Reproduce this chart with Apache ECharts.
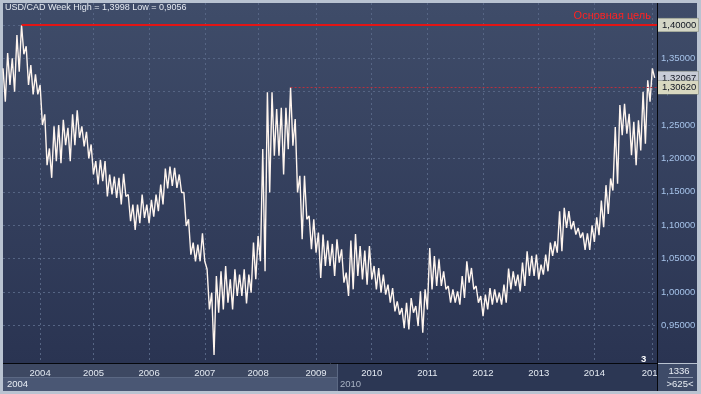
<!DOCTYPE html>
<html><head><meta charset="utf-8">
<script src="https://cdn.jsdelivr.net/npm/echarts@6/dist/echarts.min.js"></script>
<style>html,body{margin:0;padding:0;background:#b9c3d1;}#c{width:701px;height:394px;}</style>
</head><body><div id="c"></div>
<script>
const symbolName = 'USD/CAD';
const periodName = 'Week';
const startYear = 2004;
// monthly high / low (Jan 2004 ... Sep 2015)
const monthlyHigh = [
 1.335,1.358,1.350,1.385,1.3998,1.368,1.340,1.326,1.310,1.266,1.215,1.248,
 1.250,1.258,1.246,1.266,1.272,1.248,1.240,1.221,1.196,1.198,1.196,1.176,
 1.173,1.171,1.177,1.146,1.131,1.131,1.146,1.131,1.138,1.146,1.161,1.185,
 1.188,1.186,1.176,1.149,1.109,1.074,1.071,1.088,1.034,0.999,1.024,1.031,
 1.039,1.019,1.034,1.026,1.034,1.026,1.074,1.084,1.214,1.299,1.299,1.274,
 1.276,1.276,1.3062,1.259,1.174,1.174,1.114,1.109,1.089,1.086,1.077,1.072,
 1.079,1.064,1.029,1.077,1.087,1.069,1.062,1.069,1.039,1.036,1.026,1.011,
 1.006,0.986,0.976,0.984,0.991,0.979,1.001,1.004,1.066,1.054,1.049,1.031,
 1.009,1.004,1.001,1.024,1.046,1.036,1.009,0.994,0.996,1.006,1.004,0.999,
 1.011,1.035,1.031,1.026,1.044,1.061,1.054,1.056,1.041,1.056,1.074,1.076,
 1.121,1.126,1.121,1.106,1.096,1.089,1.088,1.100,1.112,1.137,1.160,1.170,
 1.247,1.280,1.282,1.267,1.255,1.257,1.300,1.317,1.335
];
const monthlyLow = [
 1.285,1.310,1.300,1.330,1.356,1.310,1.296,1.296,1.250,1.190,1.171,1.196,
 1.193,1.220,1.196,1.220,1.231,1.218,1.200,1.176,1.161,1.166,1.143,1.146,
 1.141,1.131,1.143,1.106,1.093,1.103,1.111,1.103,1.113,1.121,1.131,1.155,
 1.159,1.156,1.149,1.099,1.056,1.046,1.046,1.046,0.974,0.9056,0.969,0.974,
 0.984,0.974,0.994,0.994,0.983,0.999,1.019,1.046,1.031,1.149,1.204,1.204,
 1.176,1.214,1.219,1.149,1.079,1.109,1.064,1.059,1.021,1.039,1.039,1.024,
 1.044,1.014,0.994,1.004,1.024,1.019,1.011,1.019,1.004,0.999,0.996,0.984,
 0.971,0.966,0.946,0.944,0.969,0.949,0.939,0.974,1.004,1.009,1.009,1.004,
 0.984,0.984,0.981,0.991,1.014,1.004,0.984,0.964,0.974,0.981,0.984,0.981,
 0.984,1.004,1.009,1.001,1.009,1.024,1.024,1.019,1.026,1.031,1.054,1.059,
 1.061,1.096,1.094,1.086,1.081,1.063,1.063,1.075,1.085,1.097,1.117,1.152,
 1.162,1.235,1.237,1.205,1.190,1.212,1.222,1.285,1.3207
];
const yearLabels = ['2004','2005','2006','2007','2008','2009','2010','2011','2012','2013','2014','2015'];
const yearTickIndex = [16,39,63,87,110,135,159,183,207,231,255,280];
const targetLevel = 1.40;
const targetText = 'Основная цель';
const resistanceLevel = 1.3062;
const lastClose = 1.32067;
const lowerStripLabels = ['2004','2010'];
const cornerLabels = ['1336','>625<'];
const pageMarker = '3';

const FONT = 'Liberation Sans, Arial, sans-serif';
const zig = [], cats = [];
monthlyHigh.forEach((h, i) => {
  const y = startYear + Math.floor(i / 12), mo = String(i % 12 + 1).padStart(2, '0');
  cats.push(y + '-' + mo + ' H', y + '-' + mo + ' L');
  zig.push(h, monthlyLow[i]);
});
cats.push('');
const lastCat = cats[cats.length - 1];
const fmt = (v, d) => v.toFixed(d).replace('.', ',');
const hi = Math.max(...monthlyHigh), lo = Math.min(...monthlyLow);
const hiIdx = zig.indexOf(hi);
const resIdx = zig.indexOf(resistanceLevel);
const lastIdx = zig.length - 1;
const tickSet = new Set(yearTickIndex);
const leftCount = 6;

const tag = (val, bg) => ({show: true, position: 'end', distance: 1, formatter: fmt(val, 5),
  backgroundColor: bg, color: '#0f1420', fontSize: 9.5, fontFamily: FONT,
  padding: [2, 2, 1, 4], borderColor: '#7d8477', borderWidth: 0.5});
const hidden = {color: 'rgba(0,0,0,0)', width: 0, type: 'solid'};
const gridC = '#566584';
const splitColors = ['rgba(0,0,0,0)'].concat(Array(10).fill(gridC));

const chart = echarts.init(document.getElementById('c'), null, {renderer: 'canvas'});
chart.setOption({
  animation: false,
  backgroundColor: '#b9c3d1',
  title: {text: symbolName + ' ' + periodName + ' High = ' + fmt(hi, 4) + ' Low = ' + fmt(lo, 4),
    left: 5, top: 3, padding: 0,
    textStyle: {color: '#e6ebf2', fontSize: 9, fontWeight: 'normal', fontFamily: FONT}},
  grid: {left: 3, top: 3, right: 44, bottom: 31, containLabel: false},
  xAxis: {type: 'category', data: cats, boundaryGap: false,
    axisLine: {show: false}, axisTick: {show: false},
    axisLabel: {interval: (i) => tickSet.has(i), margin: 5, fontSize: 9.5, fontFamily: FONT,
      formatter: (v, i) => { const k = yearTickIndex.indexOf(i); return k >= 0 ? yearLabels[k] : ''; },
      color: (v, i) => yearTickIndex.indexOf(i) < leftCount ? '#e4eaf2' : '#8593aa'},
    splitLine: {show: true, interval: (i) => tickSet.has(i), lineStyle: {color: gridC, type: [2, 3], width: 1}}},
  yAxis: {type: 'value', position: 'right', min: 0.8937, max: 1.4328, splitNumber: 10,
    minInterval: 0.05, maxInterval: 0.05,
    axisLine: {show: false}, axisTick: {show: false},
    axisLabel: {margin: 4, fontSize: 9.5, fontFamily: FONT, color: '#a6c3ea', showMinLabel: false, showMaxLabel: false,
      formatter: (v) => { const k = Math.round(v / 0.05); return (Math.abs(v - k * 0.05) < 1e-6 && v > 0.94) ? fmt(v, 5) : ''; }},
    splitLine: {show: true, showMinLine: false, showMaxLine: false, lineStyle: {color: splitColors, type: [2, 3], width: 1}}},
  series: [{type: 'line', data: zig, symbol: 'none', silent: true,
    lineStyle: {color: '#fff5ee', width: 1.4},
    markLine: {symbol: 'none', silent: true, animation: false,
      data: [
        [{coord: [cats[hiIdx], targetLevel], lineStyle: {color: '#e31515', width: 2, type: 'solid'},
          label: {show: true, position: 'insideEndTop', distance: [6, 3], formatter: targetText, color: '#ff2222', fontSize: 11, fontFamily: FONT}},
         {coord: [lastCat, targetLevel]}],
        [{coord: [cats[hiIdx], targetLevel], lineStyle: hidden, label: tag(targetLevel, '#d4d6c6')},
         {coord: [lastCat, targetLevel]}],
        [{coord: [cats[lastIdx], lastClose], lineStyle: hidden, label: tag(lastClose, '#c8ccd6')},
         {coord: [lastCat, lastClose]}],
        [{coord: [cats[resIdx], resistanceLevel], lineStyle: {color: '#b8303e', width: 1, type: [2, 2]},
          label: tag(resistanceLevel, '#d8d8c0')},
         {coord: [lastCat, resistanceLevel]}]
      ]}}],
  graphic: [
    {type: 'rect', z: -30, shape: {x: 3, y: 3, width: 694, height: 360},
      style: {fill: new echarts.graphic.LinearGradient(0, 0, 0, 1, [{offset: 0, color: '#3f4c69'}, {offset: 1, color: '#2a3452'}])}},
    {type: 'rect', z: -30, shape: {x: 3, y: 364, width: 334, height: 14}, style: {fill: '#3d4862'}},
    {type: 'rect', z: -30, shape: {x: 3, y: 378, width: 334, height: 13}, style: {fill: '#4a5774'}},
    {type: 'rect', z: -30, shape: {x: 337, y: 364, width: 320, height: 27}, style: {fill: '#2c3754'}},
    {type: 'line', z: -29, shape: {x1: 3, y1: 377.5, x2: 337, y2: 377.5}, style: {stroke: '#5b6883', lineWidth: 1}},
    {type: 'line', z: -29, shape: {x1: 337.5, y1: 364, x2: 337.5, y2: 391}, style: {stroke: '#5b6883', lineWidth: 1}},
    {type: 'rect', z: 50, shape: {x: 658, y: 364, width: 39, height: 27}, style: {fill: '#3e4b68'}},
    {type: 'line', z: 51, shape: {x1: 3, y1: 363.5, x2: 658, y2: 363.5}, style: {stroke: '#05070c', lineWidth: 1}},
    {type: 'line', z: 51, shape: {x1: 657.5, y1: 3, x2: 657.5, y2: 391}, style: {stroke: '#05070c', lineWidth: 1}},
    {type: 'line', z: 51, shape: {x1: 668, y1: 377.5, x2: 693, y2: 377.5}, style: {stroke: '#8c98ae', lineWidth: 1}},
    {type: 'text', z: 52, x: 679, y: 371, style: {text: cornerLabels[0], fill: '#e8edf4', font: '9.5px ' + FONT, textAlign: 'center', textVerticalAlign: 'middle'}},
    {type: 'text', z: 52, x: 680, y: 384, style: {text: cornerLabels[1], fill: '#e8edf4', font: '9.5px ' + FONT, textAlign: 'center', textVerticalAlign: 'middle'}},
    {type: 'text', z: 52, x: 7, y: 384, style: {text: lowerStripLabels[0], fill: '#e8edf4', font: '9.5px ' + FONT, textVerticalAlign: 'middle'}},
    {type: 'text', z: 52, x: 340, y: 384, style: {text: lowerStripLabels[1], fill: '#a9b3c4', font: '9.5px ' + FONT, textVerticalAlign: 'middle'}},
    {type: 'text', z: 52, x: 641, y: 359, style: {text: pageMarker, fill: '#ffffff', font: 'bold 9.5px ' + FONT, textVerticalAlign: 'middle'}}
  ]
});
</script></body></html>
